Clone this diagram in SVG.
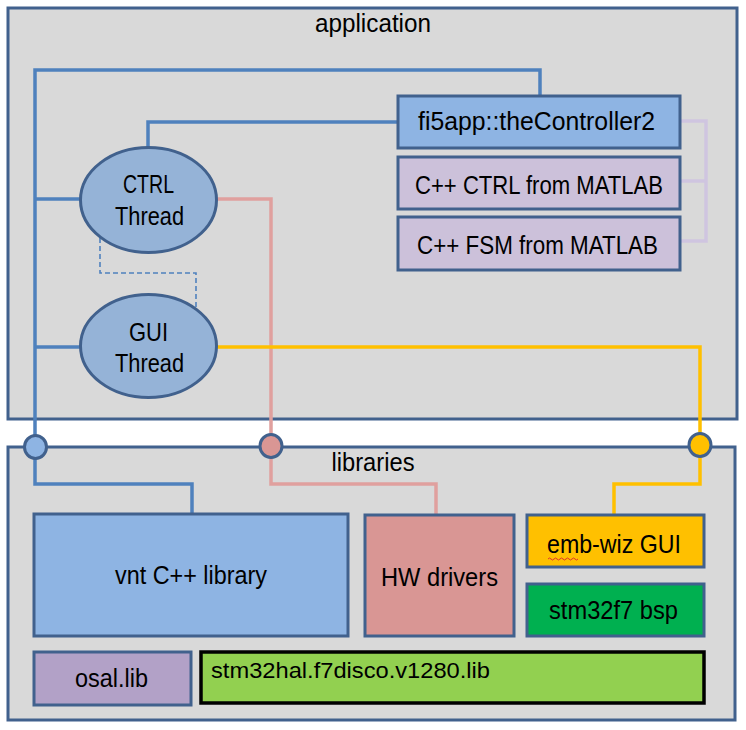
<svg xmlns="http://www.w3.org/2000/svg" width="746" height="730" viewBox="0 0 746 730">
<style>
text{font-family:"Liberation Sans",Arial,sans-serif;font-size:25.5px;fill:#000;text-anchor:middle}
.frame{fill:#D9D9D9;stroke:#41618D;stroke-width:3}
.box{stroke:#41618D;stroke-width:3}
.c{fill:none;stroke-width:3.5;stroke-linejoin:miter}
.blue{stroke:#4F81BD}
.pink{stroke:#E0A09E}
.yel{stroke:#FFC000}
.lav{stroke:#CFC5E0}
</style>
<rect width="746" height="730" fill="#fff"/>
<g id="application">
<rect class="frame" x="8" y="8" width="729" height="411"/>
<text x="373" y="32" textLength="116" lengthAdjust="spacingAndGlyphs">application</text>
</g>
<g id="libraries">
<rect class="frame" x="8" y="447" width="727" height="273"/>
<text x="373" y="471" textLength="83" lengthAdjust="spacingAndGlyphs">libraries</text>
</g>
<g id="connectors">
<path class="c blue" d="M35,447 V70 H540 V96"/>
<path class="c blue" d="M398,122 H148 V147"/>
<path class="c blue" d="M35,199 H80 M35,347 H80"/>
<path class="c blue" d="M35,447 V484 H192 V514"/>
<path d="M100,238 V273 H196 V308" fill="none" stroke="#4F81BD" stroke-width="1.6" stroke-dasharray="5,3"/>
<path class="c pink" d="M217,199 H271 V484 H436 V515"/>
<path class="c yel" d="M217,347 H700 V484 H614 V515"/>
<path class="c lav" d="M680,121 H706 V241 H680 M680,181 H706"/>
</g>
<g id="ctrl-thread">
<ellipse class="box" cx="148.5" cy="200" rx="68" ry="52.5" fill="#95B3D7"/>
<text x="148.5" y="193" textLength="51" lengthAdjust="spacingAndGlyphs">CTRL</text>
<text x="149.5" y="225" textLength="69" lengthAdjust="spacingAndGlyphs">Thread</text>
</g>
<g id="gui-thread">
<ellipse class="box" cx="148.5" cy="346" rx="68" ry="51.5" fill="#95B3D7"/>
<text x="148.5" y="341" textLength="39" lengthAdjust="spacingAndGlyphs">GUI</text>
<text x="149.5" y="372" textLength="69" lengthAdjust="spacingAndGlyphs">Thread</text>
</g>
<g id="controller">
<rect class="box" x="398" y="96" width="282" height="52" fill="#8EB4E3"/>
<text x="536.5" y="130" textLength="237" lengthAdjust="spacingAndGlyphs">fi5app::theController2</text>
</g>
<g id="ctrl-matlab">
<rect class="box" x="398" y="157" width="282" height="52" fill="#CCC1DA"/>
<text x="539" y="194" textLength="248" lengthAdjust="spacingAndGlyphs">C++ CTRL from MATLAB</text>
</g>
<g id="fsm-matlab">
<rect class="box" x="398" y="217" width="282" height="53" fill="#CCC1DA"/>
<text x="537.5" y="254" textLength="241" lengthAdjust="spacingAndGlyphs">C++ FSM from MATLAB</text>
</g>
<g id="port-blue"><ellipse class="box" cx="35.5" cy="447" rx="11" ry="11.5" fill="#8EB4E3"/></g>
<g id="port-pink"><ellipse class="box" cx="271" cy="446" rx="11" ry="11.5" fill="#D99694"/></g>
<g id="port-yellow"><ellipse class="box" cx="700" cy="445" rx="11" ry="11.5" fill="#FFC000"/></g>
<g id="vnt">
<rect class="box" x="34" y="514" width="314" height="122" fill="#8EB4E3"/>
<text x="191" y="584" textLength="152" lengthAdjust="spacingAndGlyphs">vnt C++ library</text>
</g>
<g id="hw">
<rect class="box" x="365" y="515" width="149" height="121" fill="#D99694"/>
<text x="439.5" y="586" textLength="117" lengthAdjust="spacingAndGlyphs">HW drivers</text>
</g>
<g id="embwiz">
<rect class="box" x="527" y="515" width="177" height="52" fill="#FFC000"/>
<text x="614" y="553" textLength="134" lengthAdjust="spacingAndGlyphs">emb-wiz GUI</text>
<path d="M548,559 q1.5,-2 3,0 t3,0 t3,0 t3,0 t3,0 t3,0 t3,0 t3,0 t3,0 t3,0" fill="none" stroke="#E03030" stroke-width="1"/>
</g>
<g id="bsp">
<rect class="box" x="527" y="584" width="177" height="52" fill="#00B050"/>
<text x="613.5" y="619" textLength="129" lengthAdjust="spacingAndGlyphs">stm32f7 bsp</text>
</g>
<g id="osal">
<rect class="box" x="34" y="652" width="157" height="53" fill="#B2A1C7"/>
<text x="111.5" y="687" textLength="73" lengthAdjust="spacingAndGlyphs">osal.lib</text>
</g>
<g id="hal">
<rect x="201" y="652" width="503" height="51" fill="#92D050" stroke="#000" stroke-width="3.5"/>
<text x="211" y="678" style="text-anchor:start;font-size:22px" textLength="279" lengthAdjust="spacingAndGlyphs">stm32hal.f7disco.v1280.lib</text>
</g>
</svg>
